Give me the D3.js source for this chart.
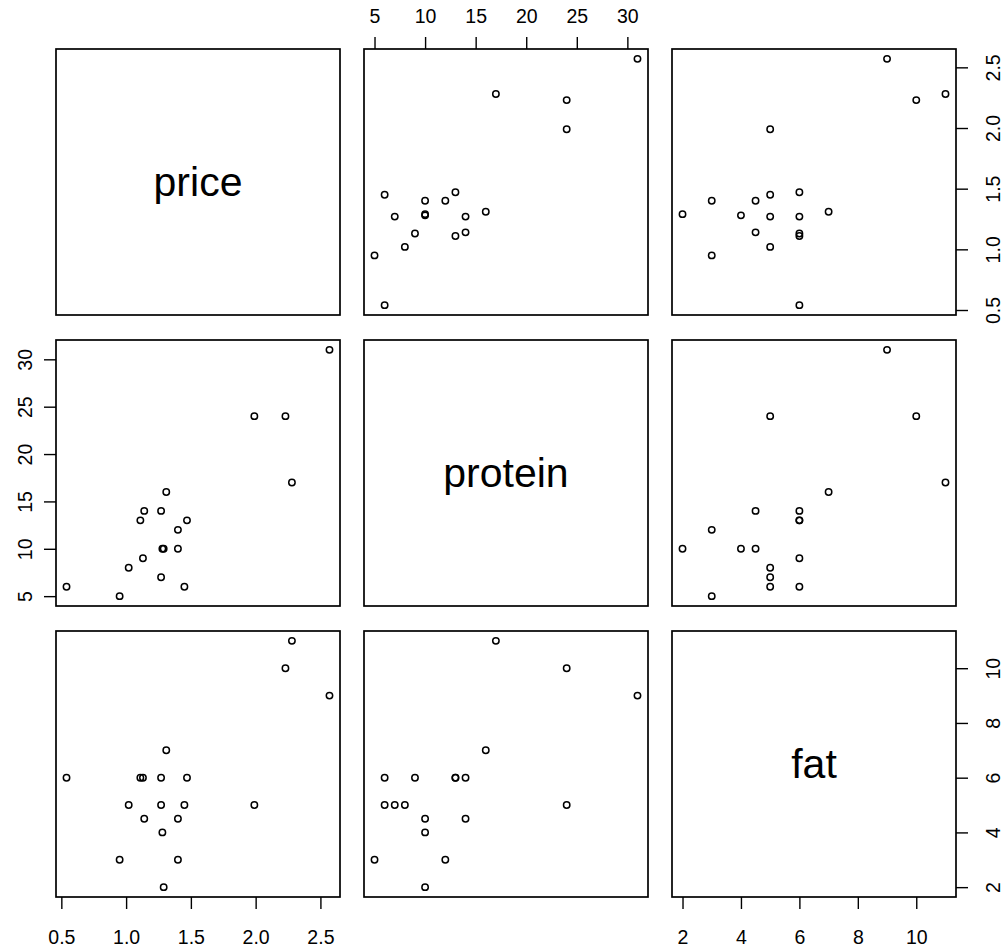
<!DOCTYPE html>
<html>
<head>
<meta charset="utf-8">
<script src="https://cdn.jsdelivr.net/npm/d3@7/dist/d3.min.js"></script>
<style>
  body { margin: 0; background: #fff; }
  svg { display: block; }
</style>
</head>
<body>
<div id="chart"></div>
<script>
(function(d3) {

// one row per item
var price   = [2.57, 2.28, 2.23, 1.99, 1.47, 1.45, 1.40, 1.40, 1.31, 1.27, 1.28, 1.29, 1.27, 1.14, 1.13, 1.11, 1.02, 0.95, 0.54];
var protein = [31, 17, 24, 24, 13, 6, 10, 12, 16, 7, 10, 10, 14, 14, 9, 13, 8, 5, 6];
var fat     = [9, 11, 10, 5, 6, 5, 4.5, 3, 7, 5, 4, 2, 6, 4.5, 6, 6, 5, 3, 6];

var varNames = ['price', 'protein', 'fat'];
var priceTicks = [0.5, 1.0, 1.5, 2.0, 2.5];
var proteinTicks = [5, 10, 15, 20, 25, 30];
var fatTicks = [2, 4, 6, 8, 10];

var vars = [price, protein, fat];
var ticks = [priceTicks, proteinTicks, fatTicks];
var tickFormat = [d3.format('.1f'), d3.format('d'), d3.format('d')];

var width = 1005;
var height = 951;
var left = 56, top = 49;
var panelW = 284, panelH = 266;
var gapX = 24, gapY = 25;
var fontFamily = '"Liberation Sans", Arial, sans-serif';

function colLeft(j) { return left + j * (panelW + gapX); }
function rowTop(i) { return top + i * (panelH + gapY); }

// R style range: data extent plus 4% each side
function padded(values) {
  var ext = d3.extent(values);
  var r = ext[1] - ext[0];
  return [ext[0] - 0.04 * r, ext[1] + 0.04 * r];
}

var xScale = vars.map(function(v, j) {
  return d3.scaleLinear().domain(padded(v)).range([colLeft(j), colLeft(j) + panelW]);
});
var yScale = vars.map(function(v, i) {
  return d3.scaleLinear().domain(padded(v)).range([rowTop(i) + panelH, rowTop(i)]);
});

var svg = d3.select('#chart')
  .append('svg')
  .attr('width', width)
  .attr('height', height);

for (var i = 0; i < 3; i++) {
  for (var j = 0; j < 3; j++) {
    var g = svg.append('g');
    if (i === j) {
      g.append('text')
        .attr('x', colLeft(j) + panelW / 2)
        .attr('y', rowTop(i) + panelH / 2)
        .attr('dy', '0.35em')
        .attr('text-anchor', 'middle')
        .attr('font-family', fontFamily)
        .attr('font-size', 41)
        .text(varNames[i]);
    } else {
      g.selectAll('circle')
        .data(d3.range(price.length))
        .enter()
        .append('circle')
        .attr('cx', (function(jj) { return function(k) { return xScale[jj](vars[jj][k]); }; })(j))
        .attr('cy', (function(ii) { return function(k) { return yScale[ii](vars[ii][k]); }; })(i))
        .attr('r', 3.2)
        .attr('fill', 'none')
        .attr('stroke', '#000')
        .attr('stroke-width', 1.5);
    }
    g.append('rect')
      .attr('x', colLeft(j))
      .attr('y', rowTop(i))
      .attr('width', panelW)
      .attr('height', panelH)
      .attr('fill', 'none')
      .attr('stroke', '#000')
      .attr('stroke-width', 1.7);
  }
}

// axes alternate sides like R pairs()
function drawAxis(axis, transform, labelPos) {
  var a = svg.append('g')
    .attr('transform', transform)
    .call(axis);
  a.select('.domain').remove();
  a.selectAll('.tick line').attr('stroke', '#000').attr('stroke-width', 1.4);
  a.selectAll('.tick text')
    .attr('x', 0)
    .attr('y', 0)
    .attr('dy', '0.35em')
    .attr('text-anchor', 'middle')
    .attr('fill', '#000')
    .attr('font-family', fontFamily)
    .attr('font-size', 19.5)
    .attr('transform', labelPos);
}

var tickLen = 12;
var bottomY = rowTop(2) + panelH;
var rightX = colLeft(2) + panelW;

[0, 2].forEach(function(j) {
  drawAxis(d3.axisBottom(xScale[j]).tickValues(ticks[j]).tickFormat(tickFormat[j]).tickSize(tickLen),
    'translate(0,' + bottomY + ')', 'translate(0,40.5)');
});
drawAxis(d3.axisTop(xScale[1]).tickValues(ticks[1]).tickFormat(tickFormat[1]).tickSize(tickLen),
  'translate(0,' + top + ')', 'translate(0,-32.5)');

[0, 2].forEach(function(i) {
  drawAxis(d3.axisRight(yScale[i]).tickValues(ticks[i]).tickFormat(tickFormat[i]).tickSize(tickLen),
    'translate(' + rightX + ',0)', 'translate(37,0) rotate(-90)');
});
drawAxis(d3.axisLeft(yScale[1]).tickValues(ticks[1]).tickFormat(tickFormat[1]).tickSize(tickLen),
  'translate(' + left + ',0)', 'translate(-31,0) rotate(-90)');

})(window.d3);
</script>
</body>
</html>
